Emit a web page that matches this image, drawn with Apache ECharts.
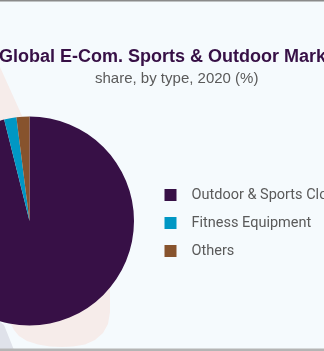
<!DOCTYPE html>
<html>
<head>
<meta charset="utf-8">
<script src="https://cdn.jsdelivr.net/npm/echarts@6/dist/echarts.min.js"></script>
<style>
html,body{margin:0;padding:0;background:#f5fafd;}
#chart{width:324px;height:351px;}
</style>
</head>
<body>
<div id="chart"></div>
<script>
const categories = ["Outdoor & Sports Clothing", "Fitness Equipment", "Others"];
const shares = [96.1, 1.9, 2.0];
const colors = ["#371046", "#0097c4", "#87532d"];
const titleText = "Global E-Com. Sports & Outdoor Market";
const subtitleText = "share, by type, 2020 (%)";

const chart = echarts.init(document.getElementById('chart'), null, {renderer: 'canvas'});
chart.setOption({
  backgroundColor: '#f5fafd',
  animation: false,
  graphic: [
    {type: 'polygon', z: -10,
     shape: {points: [[-10, 45], [23, 118], [110, 250], [110, 312], [108, 324], [103, 333], [95, 340], [85, 344.5], [73, 346.5], [62, 347], [50, 346.5], [38, 344.5], [27, 341], [19, 336], [14, 330], [12, 326], [-10, 300]]},
     style: {fill: '#f6ecea'}},
    {type: 'polygon', z: -9, shape: {points: [[0, 322], [4, 325], [14, 350], [0, 350]]}, style: {fill: '#dfe2ea'}},
    {type: 'rect', z: 10, shape: {x: 0, y: 0, width: 324, height: 1.5}, style: {fill: '#8a8a8a'}},
    {type: 'rect', z: 10, shape: {x: 0, y: 348.5, width: 324, height: 2.5}, style: {fill: '#b5b5b5'}}
  ],
  title: [
    {text: titleText, left: -1, top: 48, padding: 0, textStyle: {fontFamily: 'Liberation Sans', fontWeight: 'bold', fontSize: 18, color: '#371046'}},
    {text: subtitleText, left: 95, top: 71, padding: 0, textStyle: {fontFamily: 'Liberation Sans', fontWeight: 'normal', fontSize: 15, color: '#5a5a5a'}}
  ],
  legend: {
    orient: 'vertical', left: 164.5, top: 187.5, padding: 0,
    icon: 'rect', itemWidth: 12, itemHeight: 12, itemGap: 13,
    data: categories,
    textStyle: {fontFamily: 'Roboto', fontSize: 14.5, color: '#5a5a5a', padding: [0, 0, 0, 10]}
  },
  series: [{
    type: 'pie',
    center: [29.5, 221],
    radius: [0, 104.5],
    startAngle: 90,
    clockwise: true,
    label: {show: false},
    labelLine: {show: false},
    emphasis: {disabled: true},
    data: categories.map((c, i) => ({name: c, value: shares[i], itemStyle: {color: colors[i]}}))
  }]
});
</script>
</body>
</html>
